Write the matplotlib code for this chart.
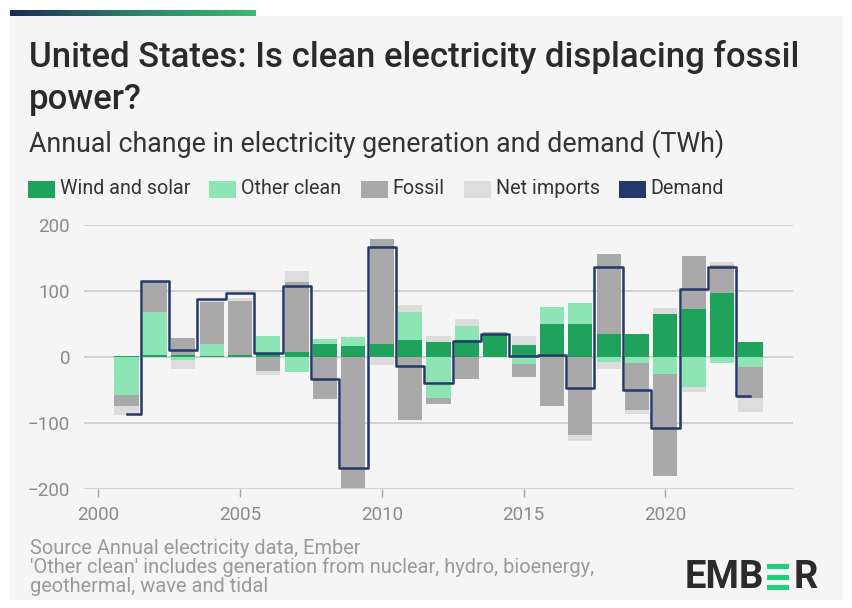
import matplotlib
matplotlib.use("Agg")
import matplotlib.pyplot as plt
import numpy as np
from matplotlib.patches import Rectangle
from matplotlib.colors import LinearSegmentedColormap

plt.rcParams['font.family'] = ['Roboto', 'DejaVu Sans']

#------------------------------------Data (TWh, change on previous year)------------------------------------
years = np.arange(2001, 2024)
wind_solar  = [1, 3, 2, 1.5, 2, 5, 6.5, 20, 17, 19, 25, 22, 25, 33, 18, 50, 49, 34, 35, 65, 72, 96, 23]
other_clean = [-58, 64, -5, 18, 0, 27, -23, 7, 13, 0, 43, -63, 21, 0, -11, 25, 32, -8, -9, -26, -45, -9, -16]
fossil      = [-17, 46, 26, 63, 82, -22, 107, -64, -198, 159, -95, -9, -34, 4, -20, -74, -118, 121, -71, -155, 81, 42, -46]
net_imports = [-13, 0, -14, 5, 5, -5, 16, 0, 0, -12, 11, 10, 11, -2, 13, 0, -10, -11, -6, 8, -8, 5, -21]
demand      = [-87, 115, 10, 87, 96, 5, 107, -34, -168, 166, -14, -39, 24, 35, 1, 2, -47, 136, -50, -108, 102, 135, -59]

series = [("Wind and solar", wind_solar, "#1fa35c"),
          ("Other clean", other_clean, "#8de5b5"),
          ("Fossil", fossil, "#a9a9a9"),
          ("Net imports", net_imports, "#dcdcdc")]
demand_col = "#22396a"
bg = "#f5f5f5"

#------------------------------------Figure------------------------------------
W, H = 853, 608
fig = plt.figure(figsize=(W/100, H/100), dpi=100)
fig.patch.set_facecolor("white")

def px(x, y):
    # pixel coords (top-left origin) -> figure fraction
    return x/W, 1 - y/H

# grey panel
fig.patches.append(Rectangle((10/W, 1-600/H), 833/W, 584/H, transform=fig.transFigure,
                             facecolor=bg, edgecolor="none", zorder=-5))
# gradient strip at the top
gax = fig.add_axes([10/W, 1-16/H, 246/W, 6/H])
grad = np.linspace(0, 1, 256).reshape(1, -1)
cm = LinearSegmentedColormap.from_list("em", ["#1c2b5a", "#2f7f6a", "#3dbb6e"])
gax.imshow(grad, aspect="auto", cmap=cm)
gax.axis("off")

# titles
fig.text(*px(29, 57), "United States: Is clean electricity displacing fossil",
         fontsize=25, fontweight="medium", color="#2a2a2a", va="center", ha="left")
fig.text(*px(29, 99), "power?", fontsize=25, fontweight="medium",
         color="#2a2a2a", va="center", ha="left")
fig.text(*px(29, 144), "Annual change in electricity generation and demand (TWh)",
         fontsize=19.3, color="#333333", va="center", ha="left")

# legend, entries chained left to right
fig.canvas.draw()
r = fig.canvas.get_renderer()
lx = 28
for name, col in [(s[0], s[2]) for s in series] + [("Demand", demand_col)]:
    fig.patches.append(Rectangle((lx/W, 1-198/H), 27/W, 17/H, transform=fig.transFigure,
                                 facecolor=col, edgecolor="none"))
    t = fig.text(*px(lx+32, 188), name, fontsize=14.2, color="#333333", va="center", ha="left")
    lx = t.get_window_extent(r).x1 + 19

#------------------------------------Chart------------------------------------
ax = fig.add_axes([84/W, 1-489/H, (793-84)/W, (489-224.5)/H])
ax.set_facecolor(bg)

pos_bottom = np.zeros(len(years))
neg_bottom = np.zeros(len(years))
for name, vals, col in series:
    v = np.array(vals, dtype=float)
    b = np.where(v >= 0, pos_bottom, neg_bottom)
    ax.bar(years, v, bottom=b, width=0.85, color=col, zorder=2)
    pos_bottom += np.where(v >= 0, v, 0)
    neg_bottom += np.where(v < 0, v, 0)

ax.step(years, demand, where="mid", color=demand_col, lw=1.8, zorder=3)

ax.set_xlim(1999.5, 2024.5)
ax.set_ylim(-200, 200)
ax.set_yticks([-200, -100, 0, 100, 200])
ax.set_yticklabels(["\u2212200", "\u2212100", "0", "100", "200"])
ax.set_xticks([2000, 2005, 2010, 2015, 2020])
ax.grid(axis="y", color="#cfcfcf", lw=1.3, zorder=0)
for s in ax.spines.values():
    s.set_visible(False)
ax.tick_params(axis="y", length=0, labelsize=13.5, labelcolor="#8a8a8a", pad=10)
ax.tick_params(axis="x", length=6, width=1, color="#a0a0a0", labelsize=13.5,
               labelcolor="#8a8a8a", pad=6)

#------------------------------------Footer------------------------------------
foot = ["Source Annual electricity data, Ember",
        "'Other clean' includes generation from nuclear, hydro, bioenergy,",
        "geothermal, wave and tidal"]
for i, t in enumerate(foot):
    fig.text(*px(30, 548 + 19.5*i), t, fontsize=14.4, color="#9a9a9a", va="center", ha="left")

# EMBER logo: letters with a green three-bar E
t1 = fig.text(*px(685, 577), "EMB", fontsize=27.5, fontweight="bold", color="#2b2b2b",
              va="center", ha="left")
bb = t1.get_window_extent(r)
ex = bb.x1 + 3
y_lo, y_hi = 1-590/H, 1-564/H
bar_h = 5/H
for k in range(3):
    yy = y_lo + k*(y_hi - y_lo - bar_h)/2
    fig.patches.append(Rectangle((ex/W, yy), 22/W, bar_h, transform=fig.transFigure,
                                 facecolor="#1fd07a", edgecolor="none"))
fig.text((ex + 26)/W, 1-577/H, "R", fontsize=27.5, fontweight="bold", color="#2b2b2b",
         va="center", ha="left")

fig.savefig("out.png", dpi=100, facecolor=fig.get_facecolor())
